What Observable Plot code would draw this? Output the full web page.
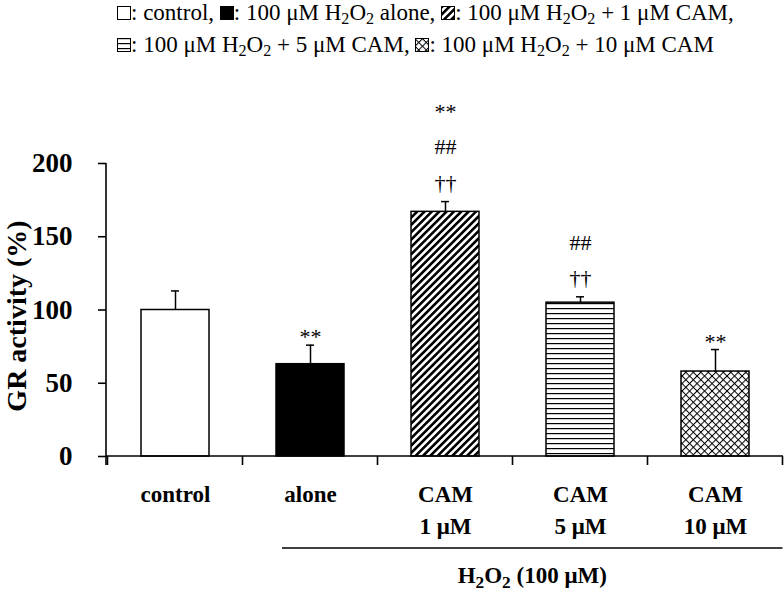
<!DOCTYPE html>
<html>
<head>
<meta charset="utf-8">
<script src="https://cdn.jsdelivr.net/npm/d3@7"></script>
<script src="https://cdn.jsdelivr.net/npm/@observablehq/plot@0.6"></script>
<style>
  html, body { margin: 0; padding: 0; background: white; }
  body { width: 784px; height: 593px; overflow: hidden; font-family: "Liberation Serif", serif; }
  #legend { height: 68px; position: relative; font-size: 23px; line-height: 32px; color: black; white-space: nowrap; }
  #legend .inner { position: absolute; left: 117px; top: -3px; }
  #legend svg { vertical-align: baseline; }
  #legend sub { font-size: 0.7em; vertical-align: -0.25em; line-height: 0; }
  #defs { position: absolute; width: 0; height: 0; }
</style>
</head>
<body>
<svg id="defs" width="0" height="0">
  <defs>
    <pattern id="pDiag" patternUnits="userSpaceOnUse" width="5.2" height="5.2" patternTransform="rotate(45)">
      <rect width="5.2" height="5.2" fill="white"/>
      <rect x="0" y="0" width="2.6" height="5.2" fill="black"/>
    </pattern>
    <pattern id="pHoriz" patternUnits="userSpaceOnUse" width="5" height="5">
      <rect width="5" height="5" fill="white"/>
      <rect x="0" y="0" width="5" height="1.2" fill="black"/>
    </pattern>
    <pattern id="pCross" patternUnits="userSpaceOnUse" width="5.3" height="5.3" patternTransform="rotate(45)">
      <rect width="5.3" height="5.3" fill="white"/>
      <rect x="0" y="0" width="1" height="5.3" fill="black"/>
      <rect x="0" y="0" width="5.3" height="1" fill="black"/>
    </pattern>
  </defs>
</svg>
<div id="legend"><div class="inner"></div></div>
<div id="chart"></div>
<script>
// ---- data ----
const categories = ["control", "alone", "CAM 1", "CAM 5", "CAM 10"];
const tickLabels = ["control", "alone", "CAM\n1 μM", "CAM\n5 μM", "CAM\n10 μM"];
const means = [100, 63, 167, 105, 58];
const errors = [13, 13, 7, 4, 15];
const annotCategories = ["alone", "CAM 1", "CAM 5", "CAM 10"];
const annotTexts = ["**", "**\n##\n††", "##\n††", "**"];
const legendLines = [
  [["control", ": control, "], ["alone", ": 100 μM H<sub>2</sub>O<sub>2</sub> alone, "], ["CAM 1", ": 100 μM H<sub>2</sub>O<sub>2</sub> + 1 μM CAM,"]],
  [["CAM 5", ": 100 μM H<sub>2</sub>O<sub>2</sub> + 5 μM CAM, "], ["CAM 10", ": 100 μM H<sub>2</sub>O<sub>2</sub> + 10 μM CAM"]]
];
const yTicks = [0, 50, 100, 150, 200];
const yLabel = "GR activity (%)";
const groupLabelParts = [["H", false], ["2", true], ["O", false], ["2", true], [" (100 μM)", false]];
const groupCategories = ["alone", "CAM 10"];

// ---- styles ----
const fills = ["white", "black", "url(#pDiag)", "url(#pHoriz)", "url(#pCross)"];
const fillOf = new Map(categories.map((c, i) => [c, fills[i]]));

// ---- legend ----
const inner = document.querySelector("#legend .inner");
inner.innerHTML = legendLines.map(line =>
  "<div>" + line.map(([cat, txt]) =>
    `<svg width="14" height="14"><rect x="0.5" y="0.5" width="13" height="13" fill="${fillOf.get(cat)}" stroke="black" stroke-width="1"/></svg>${txt}`
  ).join("") + "</div>").join("");

// ---- chart ----
const data = categories.map((c, i) => ({cat: c, value: means[i], top: means[i] + errors[i]}));
const annots = annotCategories.map((c, i) => {
  const d = data.find(e => e.cat === c);
  return {cat: c, text: annotTexts[i], top: d.top, stacked: annotTexts[i].includes("\n") || !annotTexts[i].includes("*")};
});
const labelOf = new Map(categories.map((c, i) => [c, tickLabels[i]]));

function decorations(index, scales, values, dim) {
  const x = scales.x, y = scales.y;
  const bw = typeof x.bandwidth === "function" ? x.bandwidth() : x.bandwidth;
  const step = x(categories[1]) - x(categories[0]);
  const g = d3.create("svg:g").attr("stroke", "black").attr("fill", "none");
  const x0 = dim.marginLeft, x1 = dim.width - dim.marginRight;
  const y0 = y(0);
  // y axis line
  g.append("line").attr("x1", x0).attr("x2", x0).attr("y1", y(200)).attr("y2", y0 + 9).attr("stroke-width", 1.6);
  // x axis line
  g.append("line").attr("x1", x0).attr("x2", x1).attr("y1", y0).attr("y2", y0).attr("stroke-width", 1.6);
  // ticks at band boundaries
  categories.forEach((c, i) => {
    const b = x(c) - (step - bw) / 2;
    g.append("line").attr("x1", b).attr("x2", b).attr("y1", y0).attr("y2", y0 + 9).attr("stroke-width", 1.6);
    if (i === categories.length - 1) {
      const e = b + step;
      g.append("line").attr("x1", e).attr("x2", e).attr("y1", y0).attr("y2", y0 + 9).attr("stroke-width", 1.6);
    }
  });
  // group line
  const gx1 = x(groupCategories[0]) + 6;
  const gx2 = x(groupCategories[1]) + bw + (step - bw) / 2;
  const gy = y0 + 92;
  g.append("line").attr("x1", gx1).attr("x2", gx2).attr("y1", gy).attr("y2", gy).attr("stroke-width", 1.6);
  const t = g.append("text").attr("x", (gx1 + gx2) / 2).attr("y", gy + 35)
    .attr("text-anchor", "middle").attr("fill", "black").attr("stroke", "none")
    .attr("font-size", 23).attr("font-weight", "bold");
  groupLabelParts.forEach(([s, sub], i) => {
    const ts = t.append("tspan").text(s);
    if (sub) ts.attr("font-size", "0.75em").attr("dy", "0.3em");
    else if (i > 0 && groupLabelParts[i - 1][1]) ts.attr("dy", "-0.23em");
  });
  return g.node();
}

const chart = Plot.plot({
  width: 784,
  height: 525,
  marginLeft: 106,
  marginRight: 1,
  marginTop: 95,
  marginBottom: 137,
  style: {fontFamily: "Liberation Serif", background: "white", color: "black", overflow: "visible"},
  x: {type: "band", domain: categories, paddingInner: 0.5, paddingOuter: 0.25, align: 0.5},
  y: {domain: [0, 200]},
  color: {type: "ordinal", domain: categories, range: fills},
  marks: [
    Plot.barY(data, {x: "cat", y: "value", fill: "cat", stroke: "black", strokeWidth: 1.5}),
    Plot.ruleX(data, {x: "cat", y1: "value", y2: "top", stroke: "black", strokeWidth: 1.5}),
    Plot.tickY(data, {x: "cat", y: "top", stroke: "black", strokeWidth: 1.5, insetLeft: 30, insetRight: 30}),
    Plot.text(annots.filter(d => !d.stacked), {x: "cat", y: "top", text: "text", lineAnchor: "bottom", dy: -1, fontSize: 22, fill: "black"}),
    Plot.text(annots.filter(d => d.stacked), {x: "cat", y: "top", text: "text", lineAnchor: "bottom", dy: -12, fontSize: 22, lineHeight: 1.6, fill: "black"}),
    Plot.axisY({ticks: yTicks, tickSize: 8, tickPadding: 26, fontSize: 27, fontWeight: "bold", label: null, strokeWidth: 1.6}),
    Plot.axisX({tickSize: 0, tickPadding: 23, fontSize: 23, fontWeight: "bold", lineHeight: 1.39, label: null, tickFormat: d => labelOf.get(d)}),
    Plot.text([yLabel], {frameAnchor: "left", text: d => d, rotate: -90, dx: -81, dy: 6, lineAnchor: "bottom", textAnchor: "middle", fontSize: 28, fontWeight: "bold", fill: "black"}),
    decorations
  ]
});
document.getElementById("chart").appendChild(chart);
</script>
</body>
</html>
